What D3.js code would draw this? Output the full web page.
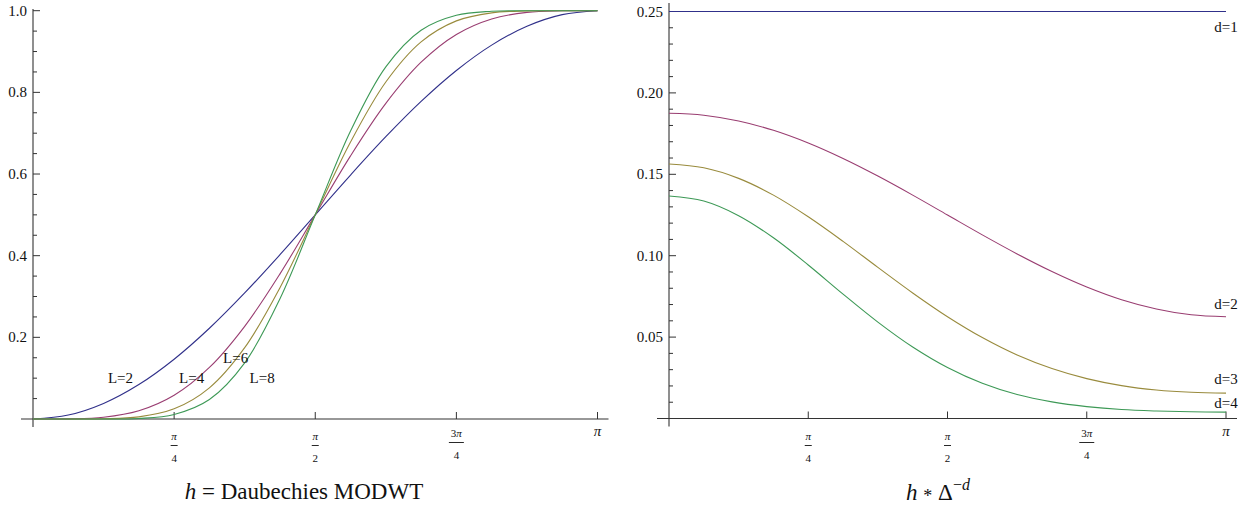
<!DOCTYPE html>
<html>
<head>
<meta charset="utf-8">
<script src="https://cdn.jsdelivr.net/npm/d3@7"></script>
<style>
  html, body { margin: 0; padding: 0; background: #fff; }
  text { font-family: "Liberation Serif", "Times New Roman", "DejaVu Serif", serif; }
</style>
</head>
<body>
<svg id="chart" width="1258" height="508"></svg>
<script>
// Frequency grid, in multiples of pi
const freqPi = [0, 0.0625, 0.125, 0.1875, 0.25, 0.3125, 0.375, 0.4375, 0.5,
                0.5625, 0.625, 0.6875, 0.75, 0.8125, 0.875, 0.9375, 1];

// Left panel: squared gain of Daubechies MODWT wavelet filters
const gainL2 = [0, 0.0096, 0.0381, 0.0843, 0.1464, 0.2222, 0.3087, 0.4025, 0.5,
                0.5975, 0.6913, 0.7778, 0.8536, 0.9157, 0.9619, 0.9904, 1];
const gainL4 = [0, 0.0003, 0.0042, 0.0201, 0.0581, 0.1262, 0.2270, 0.3555, 0.5,
                0.6445, 0.7730, 0.8738, 0.9419, 0.9799, 0.9958, 0.9997, 1];
const gainL6 = [0, 0.0000, 0.0005, 0.0053, 0.0249, 0.0764, 0.1747, 0.3217, 0.5,
                0.6783, 0.8253, 0.9236, 0.9751, 0.9947, 0.9995, 1.0000, 1];
const gainL8 = [0, 0.0000, 0.0001, 0.0014, 0.0111, 0.0477, 0.1375, 0.2946, 0.5,
                0.7054, 0.8625, 0.9523, 0.9889, 0.9986, 0.9999, 1.0000, 1];
const leftNames = ["L=2", "L=4", "L=6", "L=8"];
// label anchors: [x in multiples of pi, y value]
const leftLabelPos = [[0.155, 0.1], [0.281, 0.1], [0.359, 0.15], [0.406, 0.1]];

// Right panel: h * Delta^(-d)
const ratioD1 = [0.25, 0.25, 0.25, 0.25, 0.25, 0.25, 0.25, 0.25, 0.25,
                 0.25, 0.25, 0.25, 0.25, 0.25, 0.25, 0.25, 0.25];
const ratioD2 = [0.1875, 0.1863, 0.1827, 0.1770, 0.1692, 0.1597, 0.1489, 0.1372, 0.1250,
                 0.1128, 0.1011, 0.0903, 0.0808, 0.0730, 0.0673, 0.0637, 0.0625];
const ratioD3 = [0.1563, 0.1540, 0.1475, 0.1372, 0.1239, 0.1088, 0.0928, 0.0771, 0.0625,
                 0.0497, 0.0390, 0.0307, 0.0245, 0.0202, 0.0175, 0.0161, 0.0156];
const ratioD4 = [0.1367, 0.1336, 0.1246, 0.1110, 0.0943, 0.0764, 0.0592, 0.0439, 0.0313,
                 0.0216, 0.0147, 0.0102, 0.0073, 0.0055, 0.0046, 0.0041, 0.0039];
const rightNames = ["d=1", "d=2", "d=3", "d=4"];
const rightLabelPos = [[1, 0.2402], [1, 0.0705], [1, 0.0240], [1, 0.0098]];

// Axis ticks
const xTickPi = [0.25, 0.5, 0.75, 1];
const xTickNum = ["π", "π", "3π", null];
const xTickDen = ["4", "2", "4", null];
const leftYMajor = [0.2, 0.4, 0.6, 0.8, 1.0];
const leftYMinorStep = 0.05;
const rightYMajor = [0.05, 0.10, 0.15, 0.20, 0.25];
const rightYMinorStep = 0.01;

const colors = ["#30308a", "#993d71", "#998b3d", "#3d9956"];
const axisColor = "#333";
const FONT = "'Liberation Serif', 'Times New Roman', serif";

const svg = d3.select("#chart");
svg.append("rect").attr("width", 1258).attr("height", 508).attr("fill", "#fff");

function addText(g, x, y, size) {
  return g.append("text").attr("x", x).attr("y", y)
    .attr("font-family", FONT).attr("font-size", size).attr("fill", "#111");
}

function drawPanel(cfg) {
  const x = d3.scaleLinear().domain([0, 1]).range(cfg.xRange);
  const y = d3.scaleLinear().domain(cfg.yDomain).range(cfg.yRange);
  const g = svg.append("g");
  const x0 = x(0), y0 = y(0);

  // minor y ticks
  const minors = d3.range(cfg.yMinorStep, cfg.yDomain[1] + 1e-9, cfg.yMinorStep)
    .filter(v => !cfg.yMajor.some(m => Math.abs(m - v) < 1e-6));
  g.selectAll(".ymin").data(minors).join("line")
    .attr("x1", x0).attr("x2", x0 + 4)
    .attr("y1", d => y(d)).attr("y2", d => y(d))
    .attr("stroke", axisColor).attr("stroke-width", 1);
  // major y ticks + labels
  g.selectAll(".ymaj").data(cfg.yMajor).join("line")
    .attr("x1", x0).attr("x2", x0 + 7)
    .attr("y1", d => y(d)).attr("y2", d => y(d))
    .attr("stroke", axisColor).attr("stroke-width", 1);
  cfg.yMajor.forEach(v => {
    addText(g, x0 - 6, y(v) + 5, 15).attr("text-anchor", "end")
      .text(d3.format(cfg.yFormat)(v));
  });

  // x ticks
  g.selectAll(".xmaj").data(xTickPi).join("line")
    .attr("x1", d => x(d)).attr("x2", d => x(d))
    .attr("y1", y0).attr("y2", y0 - 7)
    .attr("stroke", axisColor).attr("stroke-width", 1);
  xTickPi.forEach((v, i) => {
    const cx = x(v);
    if (xTickNum[i] === null) {
      addText(g, cx, 436, 15).attr("text-anchor", "middle")
        .attr("font-style", "italic").text("π");
      return;
    }
    const shift = xTickNum[i].length > 1 ? -3 : 0;
    const num = addText(g, cx, 440 + shift, 11).attr("text-anchor", "middle");
    if (xTickNum[i].length > 1) {
      num.append("tspan").text(xTickNum[i].slice(0, -1));
      num.append("tspan").attr("font-style", "italic").text("π");
    } else {
      num.append("tspan").attr("font-style", "italic").text("π");
    }
    const half = xTickNum[i].length > 1 ? 7.5 : 3.5;
    g.append("line").attr("x1", cx - half).attr("x2", cx + half)
      .attr("y1", 445.5 + shift).attr("y2", 445.5 + shift)
      .attr("stroke", "#111").attr("stroke-width", 0.9);
    addText(g, cx, 462 + shift, 11).attr("text-anchor", "middle").text(xTickDen[i]);
  });

  // axes lines
  g.append("line").attr("x1", x0 - 12).attr("x2", x(1) + 11)
    .attr("y1", y0).attr("y2", y0).attr("stroke", axisColor).attr("stroke-width", 1.1);
  g.append("line").attr("x1", x0).attr("x2", x0)
    .attr("y1", cfg.yAxisTop).attr("y2", y0 + 8)
    .attr("stroke", axisColor).attr("stroke-width", 1.1);

  // curves
  const line = d3.line().x(d => x(d[0])).y(d => y(d[1])).curve(d3.curveCatmullRom.alpha(0.5));
  cfg.series.forEach((vals, i) => {
    g.append("path")
      .datum(freqPi.map((f, k) => [f, vals[k]]))
      .attr("d", line).attr("fill", "none")
      .attr("stroke", colors[i]).attr("stroke-width", 1.1);
  });

  // curve labels
  cfg.names.forEach((n, i) => {
    const p = cfg.labelPos[i];
    addText(g, x(p[0]), y(p[1]) + 5, 15).attr("text-anchor", "middle").text(n);
  });

  return g;
}

drawPanel({
  xRange: [33, 597.5], yDomain: [0, 1], yRange: [419, 10.7],
  yMajor: leftYMajor, yMinorStep: leftYMinorStep, yFormat: ".1f", yAxisTop: 9,
  series: [gainL2, gainL4, gainL6, gainL8], names: leftNames, labelPos: leftLabelPos
});
drawPanel({
  xRange: [669, 1226], yDomain: [0, 0.25], yRange: [418.5, 11.5],
  yMajor: rightYMajor, yMinorStep: rightYMinorStep, yFormat: ".2f", yAxisTop: 3,
  series: [ratioD1, ratioD2, ratioD3, ratioD4], names: rightNames, labelPos: rightLabelPos
});

// panel captions
const cap1 = addText(svg, 304, 499, 23).attr("text-anchor", "middle");
cap1.append("tspan").attr("font-style", "italic").text("h");
cap1.append("tspan").text(" = Daubechies MODWT");

const cap2 = addText(svg, 938, 500, 23).attr("text-anchor", "middle");
cap2.append("tspan").attr("font-style", "italic").text("h");
cap2.append("tspan").text(" ");
cap2.append("tspan").attr("font-size", 18).attr("dy", 2).text("*");
cap2.append("tspan").attr("dy", -2).text(" Δ");
cap2.append("tspan").attr("font-size", 16).attr("dy", -10).text("−");
cap2.append("tspan").attr("font-size", 16).attr("font-style", "italic").text("d");
</script>
</body>
</html>
